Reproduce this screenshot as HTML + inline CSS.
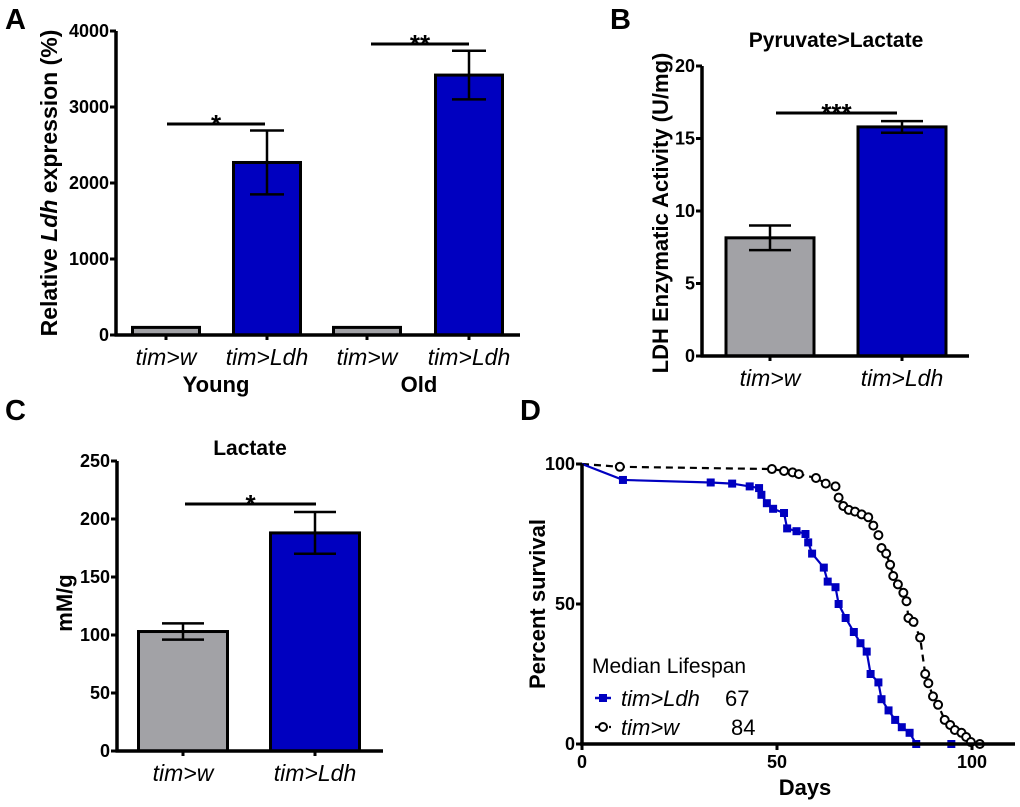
<!DOCTYPE html>
<html><head><meta charset="utf-8"><style>
body{margin:0;background:#fff;}
svg{display:block;font-family:"Liberation Sans",Arial,sans-serif;}
</style></head><body>
<svg id="fig" width="1020" height="807" viewBox="0 0 1020 807" xmlns="http://www.w3.org/2000/svg"></svg>
<script>
// ---- Panel A data ----
const aCats = ["tim>w","tim>Ldh","tim>w","tim>Ldh"];
const aVals = [100, 2270, 100, 3420];
const aErrs = [0, 420, 0, 320];
const aTicks = [0,1000,2000,3000,4000];
// ---- Panel B data ----
const bCats = ["tim>w","tim>Ldh"];
const bVals = [8.15, 15.8];
const bErrs = [0.85, 0.4];
const bTicks = [0,5,10,15,20];
// ---- Panel C data ----
const cCats = ["tim>w","tim>Ldh"];
const cVals = [103, 188];
const cErrs = [7, 18];
const cTicks = [0,50,100,150,200,250];
// ---- Panel D data ----
const ldhDays = [0,10.5,33,38.5,43,45.4,46,47.4,49,51.8,52.6,55,57.3,58,59,62,63,65,65.8,67.6,69.7,71.4,73,74,76,76.8,78.6,80.3,82,84,85.7,94.7];
const ldhSurv = [100,94.3,93.4,93,92,91.4,89,86,84,82.5,77,76,75,72,68,63,58,56,50,45,40,36,33,25,22,16,12,8.6,6,4,0,0];
const wDays = [0,9.7,48.7,51.8,54,55.6,60,62.5,65,65.8,67,68.4,70,71.7,73.4,74.7,76,76.8,78,79,79.8,81,82.4,83.2,83.7,85,86.7,88,88.8,90,91.3,93,94.4,95.6,97.3,98.5,99.7,102];
const wSurv = [100,99,98.2,97.5,97,96.4,95,93,92,88,85,83.6,83,82,81,78,74.6,70,68,64,60,57,54,51,45,43.6,38,25,21.7,17,14,8.6,6.8,5,4,2.5,0.7,0];
const dXTicks = [0,50,100];
const dYTicks = [0,50,100];

const NS="http://www.w3.org/2000/svg";
const svg=document.getElementById('fig');
function mk(tag,attrs,parent){const e=document.createElementNS(NS,tag);for(const k in attrs)e.setAttribute(k,attrs[k]);(parent||svg).appendChild(e);return e;}
function txt(s,x,y,attrs,parent){const e=mk('text',Object.assign({x:x,y:y},attrs),parent);e.textContent=s;return e;}
function catLabel(s,x,y,g){
  const t=mk('text',{x:x,y:y,'text-anchor':'middle','font-size':'23','font-style':'italic'},g);
  
  
  const i=s.indexOf('>');
  const a=document.createElementNS(NS,'tspan');a.textContent=s.slice(0,i+1);t.appendChild(a);
  const b=document.createElementNS(NS,'tspan');b.textContent=s.slice(i+1);t.appendChild(b);
  return t;
}

function barPanel(o){
  const g=mk('g',{});
  
  
  const y=v=>o.y0-(v-o.min)/(o.max-o.min)*(o.y0-o.yTop);
  // bars
  o.vals.forEach((v,i)=>{
    const cx=o.centers[i];
    const r=mk('rect',{x:cx-o.bw/2,y:y(v),width:o.bw,height:o.y0-y(v),fill:o.colors[i],stroke:'#000','stroke-width':3},g);
    
    
    if(o.errs[i]>0){
      const eg=mk('g',{stroke:'#000','stroke-width':2.5},g);
      
      
      mk('line',{x1:cx,x2:cx,y1:y(v+o.errs[i]),y2:y(v-o.errs[i])},eg);
      mk('line',{x1:cx-o.cap,x2:cx+o.cap,y1:y(v+o.errs[i]),y2:y(v+o.errs[i])},eg);
      mk('line',{x1:cx-o.cap,x2:cx+o.cap,y1:y(v-o.errs[i]),y2:y(v-o.errs[i])},eg);
    }
    mk('line',{x1:cx,x2:cx,y1:o.y0,y2:o.y0+5,stroke:'#000','stroke-width':3},g);
    catLabel(o.cats[i],cx,o.y0+30,g);
  });
  // axes
  const ya=mk('line',{x1:o.ax,x2:o.ax,y1:o.yTop,y2:o.y0+1.5,stroke:'#000','stroke-width':3.5},g);
  
  const xa=mk('line',{x1:o.ax-1.5,x2:o.xEnd,y1:o.y0,y2:o.y0,stroke:'#000','stroke-width':3.5},g);
  
  o.ticks.forEach(t=>{
    mk('line',{x1:o.ax-6,x2:o.ax,y1:y(t),y2:y(t),stroke:'#000','stroke-width':3},g);
    const l=txt(String(t),o.ax-7,y(t)+6,{'text-anchor':'end','font-size':'18','font-weight':'bold'},g);
    
  });
  // significance
  o.sig.forEach(s=>{
    const l=mk('line',{x1:s.x1,x2:s.x2,y1:s.y,y2:s.y,stroke:'#000','stroke-width':3},g);
    
    const t=txt(s.label,(s.x1+s.x2)/2,s.y+9,{'text-anchor':'middle','font-size':'26','font-weight':'bold'},g);
    
  });
  return g;
}

// Panel letters
[["A",5,29],["B",610,29],["C",5,420],["D",520,420]].forEach(p=>{
  const t=txt(p[0],p[1],p[2],{'font-size':'29','font-weight':'bold'});
  
  
});

// Panel A
const gA=barPanel({name:'panel-a-chart',vals:aVals,errs:aErrs,cats:aCats,ticks:aTicks,min:0,max:4000,y0:335,yTop:31,ax:116,xEnd:520,
  centers:[166,267,367,469],bw:67,cap:17,colors:['#a2a2a6','#0000c0','#a2a2a6','#0000c0'],
  sig:[{x1:167,x2:265,y:124,label:'*'},{x1:371,x2:469,y:44,label:'**'}]});
let t=mk('text',{transform:'translate(57,183) rotate(-90)','text-anchor':'middle','font-size':'23','font-weight':'bold'},gA);

t.innerHTML='Relative <tspan font-style="italic">Ldh</tspan> expression (%)';
t=txt('Young',216,392,{'text-anchor':'middle','font-size':'22','font-weight':'bold'},gA);

t=txt('Old',419,392,{'text-anchor':'middle','font-size':'22','font-weight':'bold'},gA);


// Panel B
const gB=barPanel({name:'panel-b-chart',vals:bVals,errs:bErrs,cats:bCats,ticks:bTicks,min:0,max:20,y0:356,yTop:66,ax:702,xEnd:969,
  centers:[770,902],bw:88,cap:21,colors:['#a2a2a6','#0000c0'],
  sig:[{x1:776,x2:897,y:113,label:'***'}]});
t=txt('LDH Enzymatic Activity (U/mg)',0,0,{transform:'translate(668,213) rotate(-90)','text-anchor':'middle','font-size':'22','font-weight':'bold'},gB);

t=txt('Pyruvate>Lactate',836,47,{'text-anchor':'middle','font-size':'21','font-weight':'bold'},gB);


// Panel C
const gC=barPanel({name:'panel-c-chart',vals:cVals,errs:cErrs,cats:cCats,ticks:cTicks,min:0,max:250,y0:751,yTop:461,ax:117,xEnd:383,
  centers:[183,315],bw:89,cap:21,colors:['#a2a2a6','#0000c0'],
  sig:[{x1:185,x2:316,y:504,label:'*'}]});
t=txt('mM/g',0,0,{transform:'translate(72,603) rotate(-90)','text-anchor':'middle','font-size':'22','font-weight':'bold'},gC);

t=txt('Lactate',250,455,{'text-anchor':'middle','font-size':'21','font-weight':'bold'},gC);


// Panel D
const gD=mk('g',{});

const dx=d=>582+d*3.9;
const dy=s=>744-s*2.8;
// w curve (dashed, open circles)
const wPts=wDays.map((d,i)=>dx(d)+','+dy(wSurv[i])).join(' ');
let pl=mk('polyline',{points:wPts,fill:'none',stroke:'#000','stroke-width':2.2,'stroke-dasharray':'7,5'},gD);

wDays.forEach((d,i)=>{if(i===0)return;const c=mk('circle',{cx:dx(d),cy:dy(wSurv[i]),r:4,fill:'#fff',stroke:'#000','stroke-width':2},gD);
  });
// Ldh curve
const lPts=ldhDays.map((d,i)=>dx(d)+','+dy(ldhSurv[i])).join(' ');
pl=mk('polyline',{points:lPts,fill:'none',stroke:'#0000c0','stroke-width':2.2},gD);

ldhDays.forEach((d,i)=>{if(i===0)return;const r=mk('rect',{x:dx(d)-4,y:dy(ldhSurv[i])-4,width:8,height:8,fill:'#0000c0'},gD);
  });
// axes
let ax=mk('line',{x1:582,x2:582,y1:dy(100),y2:745.5,stroke:'#000','stroke-width':3.5},gD);

ax=mk('line',{x1:580,x2:1015,y1:744,y2:744,stroke:'#000','stroke-width':3.5},gD);

dYTicks.forEach(v=>{
  mk('line',{x1:576,x2:582,y1:dy(v),y2:dy(v),stroke:'#000','stroke-width':3},gD);
  const l=txt(String(v),575,dy(v)+6,{'text-anchor':'end','font-size':'18','font-weight':'bold'},gD);
  
});
dXTicks.forEach(v=>{
  mk('line',{x1:dx(v),x2:dx(v),y1:744,y2:750,stroke:'#000','stroke-width':3},gD);
  const l=txt(String(v),dx(v),768,{'text-anchor':'middle','font-size':'18','font-weight':'bold'},gD);
  
});
t=txt('Percent survival',0,0,{transform:'translate(545,604) rotate(-90)','text-anchor':'middle','font-size':'22','font-weight':'bold'},gD);

t=txt('Days',805,795,{'text-anchor':'middle','font-size':'22','font-weight':'bold'},gD);

// legend
const lg=mk('g',{},gD);

t=txt('Median Lifespan',592,673,{'font-size':'21'},lg);

mk('line',{x1:595,x2:611,y1:698,y2:698,stroke:'#0000c0','stroke-width':2.5},lg);
mk('rect',{x:599,y:694,width:8,height:8,fill:'#0000c0'},lg);
t=txt('tim>Ldh',621,706,{'font-size':'22','font-style':'italic'},lg);

t=txt('67',725,706,{'font-size':'22'},lg);

mk('line',{x1:595,x2:611,y1:727,y2:727,stroke:'#000','stroke-width':2.2,'stroke-dasharray':'4,3'},lg);
mk('circle',{cx:603,cy:727,r:4,fill:'#fff',stroke:'#000','stroke-width':2},lg);
t=txt('tim>w',621,735,{'font-size':'22','font-style':'italic'},lg);

t=txt('84',731,735,{'font-size':'22'},lg);

</script>
</body></html>
